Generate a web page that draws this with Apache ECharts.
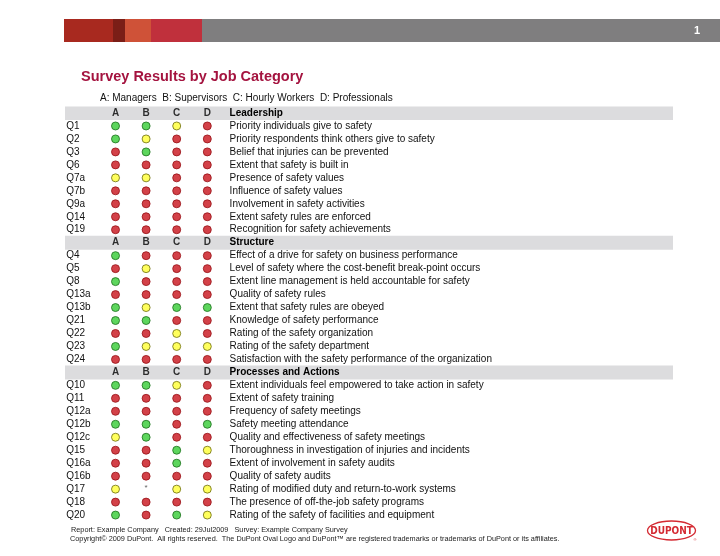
<!DOCTYPE html>
<html>
<head>
<meta charset="utf-8">
<script src="https://cdn.jsdelivr.net/npm/echarts@6/dist/echarts.min.js"></script>
<style>
  html, body { margin: 0; padding: 0; background: #ffffff; }
  #chart { width: 720px; height: 556px; }
</style>
</head>
<body>
<div id="chart"></div>
<script>
// ---------- data ----------
const columns = ['A', 'B', 'C', 'D'];
const legendLine = 'A: Managers  B: Supervisors  C: Hourly Workers  D: Professionals';
const sectionNames = ['Leadership', 'Structure', 'Processes and Actions'];

const leadershipIds = ['Q1', 'Q2', 'Q3', 'Q6', 'Q7a', 'Q7b', 'Q9a', 'Q14', 'Q19'];
const leadershipText = [
  'Priority individuals give to safety',
  'Priority respondents think others give to safety',
  'Belief that injuries can be prevented',
  'Extent that safety is built in',
  'Presence of safety values',
  'Influence of safety values',
  'Involvement in safety activities',
  'Extent safety rules are enforced',
  'Recognition for safety achievements'
];
// G = green, Y = yellow, R = red, * = asterisk ; order A B C D
const leadershipRatings = ['GGYR', 'GYRR', 'RGRR', 'RRRR', 'YYRR', 'RRRR', 'RRRR', 'RRRR', 'RRRR'];

const structureIds = ['Q4', 'Q5', 'Q8', 'Q13a', 'Q13b', 'Q21', 'Q22', 'Q23', 'Q24'];
const structureText = [
  'Effect of a drive for safety on business performance',
  'Level of safety where the cost-benefit break-point occurs',
  'Extent line management is held accountable for safety',
  'Quality of safety rules',
  'Extent that safety rules are obeyed',
  'Knowledge of safety performance',
  'Rating of the safety organization',
  'Rating of the safety department',
  'Satisfaction with the safety performance of the organization'
];
const structureRatings = ['GRRR', 'RYRR', 'GRRR', 'RRRR', 'GYGG', 'GGRR', 'RRYR', 'GYYY', 'RRRR'];

const processIds = ['Q10', 'Q11', 'Q12a', 'Q12b', 'Q12c', 'Q15', 'Q16a', 'Q16b', 'Q17', 'Q18', 'Q20'];
const processText = [
  'Extent individuals feel empowered to take action in safety',
  'Extent of safety training',
  'Frequency of safety meetings',
  'Safety meeting attendance',
  'Quality and effectiveness of safety meetings',
  'Thoroughness in investigation of injuries and incidents',
  'Extent of involvement in safety audits',
  'Quality of safety audits',
  'Rating of modified duty and return-to-work systems',
  'The presence of off-the-job safety programs',
  'Rating of the safety of facilities and equipment'
];
const processRatings = ['GGYR', 'RRRR', 'RRRR', 'GGRG', 'YGRR', 'RRGY', 'RRGR', 'RRRR', 'Y*YY', 'RRRR', 'GRGY'];

const footerLine1 = 'Report: Example Company   Created: 29Jul2009   Survey: Example Company Survey';
const footerLine2 = 'Copyright\u00A9 2009 DuPont.  All rights reserved.  The DuPont Oval Logo and DuPont\u2122 are registered trademarks or trademarks of DuPont or its affiliates.';
const pageNumber = '1';

// ---------- build rows ----------
const sections = [
  { name: sectionNames[0], ids: leadershipIds, text: leadershipText, ratings: leadershipRatings },
  { name: sectionNames[1], ids: structureIds, text: structureText, ratings: structureRatings },
  { name: sectionNames[2], ids: processIds, text: processText, ratings: processRatings }
];
const leftLabels = [], rightLabels = [], headerRows = [], ratingRows = [];
sections.forEach(s => {
  headerRows.push(leftLabels.length);
  leftLabels.push(''); rightLabels.push(s.name); ratingRows.push(null);
  s.ids.forEach((id, i) => {
    leftLabels.push(id); rightLabels.push(s.text[i]); ratingRows.push(s.ratings[i]);
  });
});
const nRows = leftLabels.length;

const pts = { G: [], Y: [], R: [], '*': [] };
ratingRows.forEach((r, row) => {
  if (!r) return;
  r.split('').forEach((c, col) => pts[c].push([col, row]));
});
const headerLetterData = [];
headerRows.forEach(row => columns.forEach((c, col) => headerLetterData.push([col, row])));
const bandData = leftLabels.map((_, i) => headerRows.includes(i) ? 1 : '-');

// ---------- chart ----------
const FONT = '"Liberation Sans", Arial, Helvetica, sans-serif';
const rowH = 12.97;
const gridTop = 113 - rowH / 2;
const gridH = rowH * nRows;

const dotStyle = (fill, stroke) => ({ color: fill, borderColor: stroke, borderWidth: 1 });

const chart = echarts.init(document.getElementById('chart'), null, { renderer: 'canvas' });
chart.setOption({
  animation: false,
  backgroundColor: '#ffffff',
  textStyle: { fontFamily: FONT },
  title: [
    { text: 'Survey Results by Job Category', left: 76, top: 64,
      textStyle: { fontFamily: FONT, fontSize: 14.5, fontWeight: 'bold', color: '#a4133f' } },
    { text: legendLine, left: 95, top: 88,
      textStyle: { fontFamily: FONT, fontSize: 10, fontWeight: 'normal', color: '#111' } }
  ],
  grid: [
    { left: 100.2, width: 122.4, top: gridTop, height: gridH },
    { left: 65, width: 608, top: gridTop, height: gridH }
  ],
  xAxis: [
    { gridIndex: 0, type: 'category', data: columns, show: false },
    { gridIndex: 1, type: 'value', min: 0, max: 1, show: false }
  ],
  yAxis: [
    { gridIndex: 0, type: 'category', data: leftLabels, inverse: true, position: 'left',
      axisLine: { show: false }, axisTick: { show: false }, splitLine: { show: false },
      axisLabel: { interval: 0, align: 'left', margin: 34, fontSize: 10, color: '#111', fontFamily: FONT } },
    { gridIndex: 0, type: 'category', data: rightLabels, inverse: true, position: 'right',
      axisLine: { show: false }, axisTick: { show: false }, splitLine: { show: false },
      axisLabel: { interval: 0, align: 'left', margin: 7, fontSize: 10, color: '#111', fontFamily: FONT,
        formatter: (v, i) => headerRows.includes(i) ? '{b|' + v + '}' : v,
        rich: { b: { fontWeight: 'bold', fontSize: 10, color: '#000', fontFamily: FONT } } } },
    { gridIndex: 1, type: 'category', data: leftLabels.map((_, i) => 'r' + i), inverse: true, show: false }
  ],
  series: [
    { type: 'bar', xAxisIndex: 1, yAxisIndex: 2, data: bandData, barWidth: 14, z: 0,
      itemStyle: { color: '#dcdcde' }, silent: true },
    { type: 'scatter', name: 'letters', xAxisIndex: 0, yAxisIndex: 0, data: headerLetterData,
      symbolSize: 0, z: 5,
      label: { show: true, position: 'inside', formatter: p => columns[p.value[0]],
        fontFamily: FONT, fontSize: 10, fontWeight: 'bold', color: '#000' } },
    { type: 'scatter', name: 'green', data: pts.G, symbolSize: 8, z: 5, itemStyle: dotStyle('#35cc35', '#1c6e1c') },
    { type: 'scatter', name: 'yellow', data: pts.Y, symbolSize: 8, z: 5, itemStyle: dotStyle('#ffff33', '#6b6b10') },
    { type: 'scatter', name: 'red', data: pts.R, symbolSize: 8, z: 5, itemStyle: dotStyle('#c8121a', '#961015') },
    { type: 'scatter', name: 'asterisk', data: pts['*'], symbolSize: 0, z: 5,
      label: { show: true, position: 'inside', formatter: '*', fontSize: 8, color: '#333', offset: [0, -1] } }
  ],
  graphic: [
    { type: 'rect', shape: { x: 64, y: 19, width: 49, height: 23 }, style: { fill: '#a8291f' } },
    { type: 'rect', shape: { x: 113, y: 19, width: 12, height: 23 }, style: { fill: '#7b1e17' } },
    { type: 'rect', shape: { x: 125, y: 19, width: 26, height: 23 }, style: { fill: '#cf5238' } },
    { type: 'rect', shape: { x: 151, y: 19, width: 51, height: 23 }, style: { fill: '#c0303c' } },
    { type: 'rect', shape: { x: 202, y: 19, width: 518, height: 23 }, style: { fill: '#7f7e7f' } },
    { type: 'text', x: 697, y: 31, style: { text: pageNumber, fill: '#ffffff', font: 'bold 11px ' + FONT,
      textAlign: 'center', textVerticalAlign: 'middle' } },
    { type: 'text', x: 71, y: 530, style: { text: footerLine1, fill: '#222', font: '7.3px ' + FONT,
      textVerticalAlign: 'middle' } },
    { type: 'text', x: 70, y: 539, style: { text: footerLine2, fill: '#222', font: '7.3px ' + FONT,
      textVerticalAlign: 'middle' } },
    { type: 'ellipse', shape: { cx: 671.5, cy: 530.5, rx: 24, ry: 9.5 },
      style: { fill: 'none', stroke: '#d42a32', lineWidth: 1.3 } },
    { type: 'text', x: 671.5, y: 531, style: { text: 'DUPONT', fill: '#d42a32',
      font: 'bold 10px "Liberation Sans Narrow", "DejaVu Sans Condensed", Arial', textAlign: 'center', textVerticalAlign: 'middle' } },
    { type: 'text', x: 695, y: 540, style: { text: '\u00AE', fill: '#d42a32', font: '4px Arial',
      textAlign: 'center', textVerticalAlign: 'middle' } }
  ]
});
</script>
</body>
</html>
